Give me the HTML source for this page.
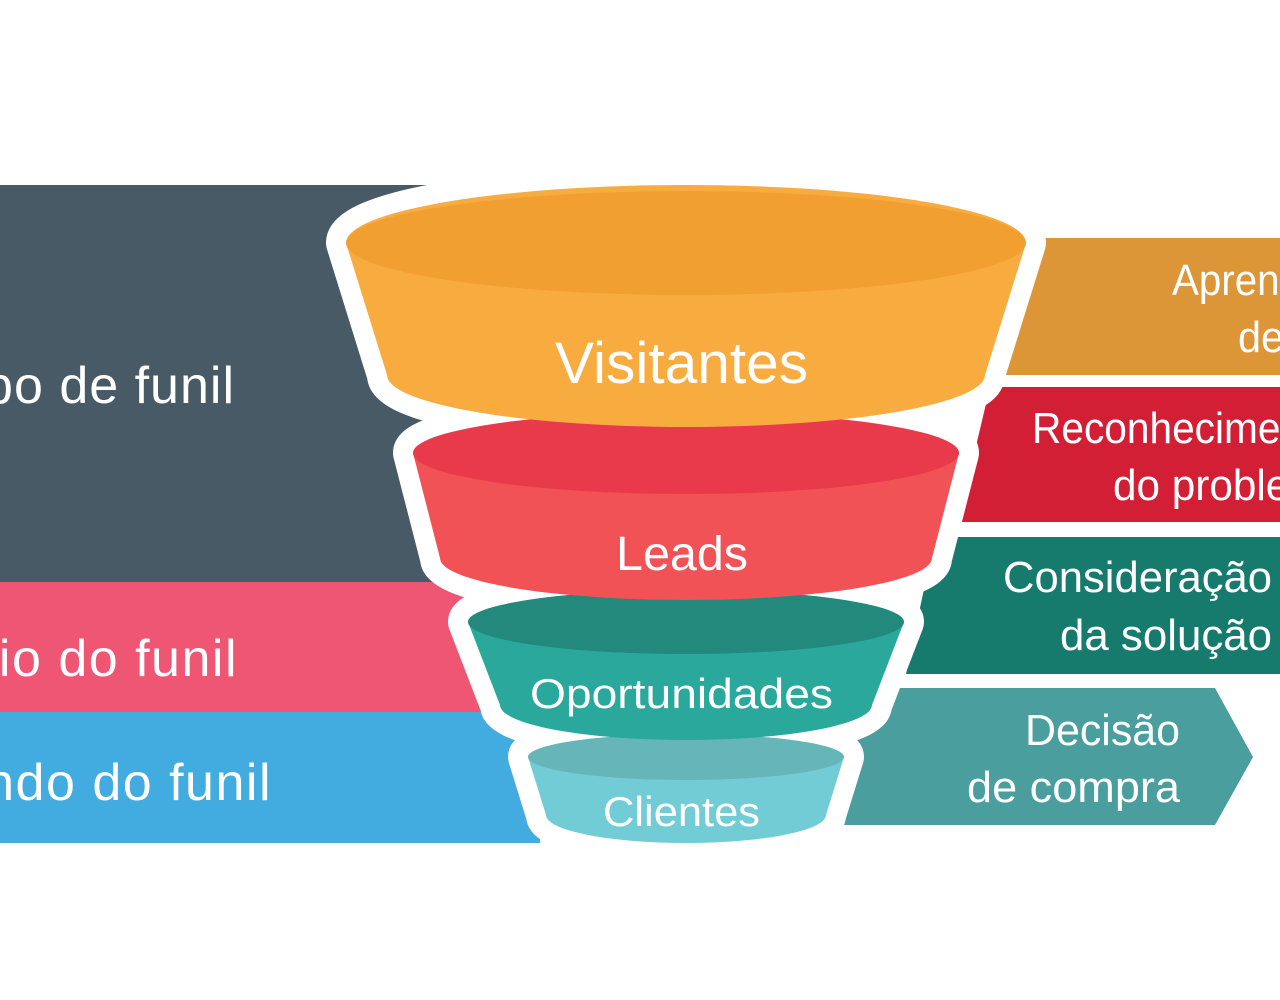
<!DOCTYPE html>
<html><head><meta charset="utf-8"><style>html,body{margin:0;padding:0;background:#fff}svg{display:block}</style></head>
<body>
<svg width="1280" height="1000" viewBox="0 0 1280 1000" xmlns="http://www.w3.org/2000/svg" font-family="Liberation Sans, sans-serif">
<rect width="1280" height="1000" fill="#fff"/>
<rect x="0" y="185" width="500" height="397" fill="#475a65"/>
<rect x="0" y="582" width="520" height="130" fill="#ee5674"/>
<rect x="0" y="712" width="540" height="131" fill="#42abdf"/>
<polygon points="1045,238 1280,238 1280,375 1003,375" fill="#dc9537"/>
<polygon points="990,387 1280,387 1280,522 958,522" fill="#d31f35"/>
<polygon points="935,537 1280,537 1280,674 906,674" fill="#167a6c"/>
<polygon points="868,688 1215,688 1253,757 1215,825 840,825" fill="#4a9e9e"/>
<g fill="#fff" stroke="#fff" stroke-width="40" stroke-linejoin="round">
<path d="M346,243 A340,58 0 0 1 1026,243 L985,375 A299,52 0 0 1 387,375 Z"/>
<path d="M413,453 A273,40 0 0 1 959,453 L932,558 A246,42 0 0 1 440,558 Z"/>
<path d="M468,622 A218,32 0 0 1 904,622 L872,705 A186,35 0 0 1 500,705 Z"/>
<path d="M528,757 A158,22 0 0 1 844,757 L826,815 A140,28 0 0 1 546,815 Z"/>
</g>
<path d="M528,757 A158,22 0 0 1 844,757 L826,815 A140,28 0 0 1 546,815 Z" fill="#72ccd6"/>
<ellipse cx="686" cy="757" rx="158" ry="23" fill="#66b5b9"/>
<path d="M468,622 A218,32 0 0 1 904,622 L872,705 A186,35 0 0 1 500,705 Z" fill="#2aa89c"/>
<ellipse cx="686" cy="622" rx="218" ry="32" fill="#22897c"/>
<path d="M413,453 A273,40 0 0 1 959,453 L932,558 A246,42 0 0 1 440,558 Z" fill="#f05256"/>
<ellipse cx="686" cy="453" rx="273" ry="41" fill="#e83a4a"/>
<path d="M346,243 A340,58 0 0 1 1026,243 L985,375 A299,52 0 0 1 387,375 Z" fill="#f8ac40"/>
<ellipse cx="686" cy="243" rx="340" ry="52" fill="#f29f31"/>
<g fill="#fff">
<text x="555" y="383" font-size="58" textLength="253" lengthAdjust="spacingAndGlyphs">Visitantes</text>
<text x="616" y="570" font-size="48" textLength="132" lengthAdjust="spacingAndGlyphs">Leads</text>
<text x="530" y="708" font-size="42" textLength="303" lengthAdjust="spacingAndGlyphs">Oportunidades</text>
<text x="603" y="826" font-size="42" textLength="157" lengthAdjust="spacingAndGlyphs">Clientes</text>
<text x="1172" y="295" font-size="44" textLength="260" lengthAdjust="spacingAndGlyphs">Aprendizado e</text>
<text x="1238" y="352" font-size="44" textLength="205" lengthAdjust="spacingAndGlyphs">descoberta</text>
<text x="1032" y="443" font-size="44" textLength="305" lengthAdjust="spacingAndGlyphs">Reconhecimento</text>
<text x="1113" y="500" font-size="44" textLength="235" lengthAdjust="spacingAndGlyphs">do problema</text>
<text x="1003" y="592" font-size="44" textLength="269" lengthAdjust="spacingAndGlyphs">Consideração</text>
<text x="1060" y="650" font-size="44" textLength="212" lengthAdjust="spacingAndGlyphs">da solução</text>
<text x="1025" y="745" font-size="44" textLength="155" lengthAdjust="spacingAndGlyphs">Decisão</text>
<text x="967" y="802" font-size="44" textLength="213" lengthAdjust="spacingAndGlyphs">de compra</text>
<text x="235" y="403" font-size="52" text-anchor="end" letter-spacing="1">Topo de funil</text>
<text x="238" y="676" font-size="52" text-anchor="end" letter-spacing="1.5">Meio do funil</text>
<text x="272" y="800" font-size="52" text-anchor="end" letter-spacing="1.5">Fundo do funil</text>
</g>
</svg>
</body></html>
